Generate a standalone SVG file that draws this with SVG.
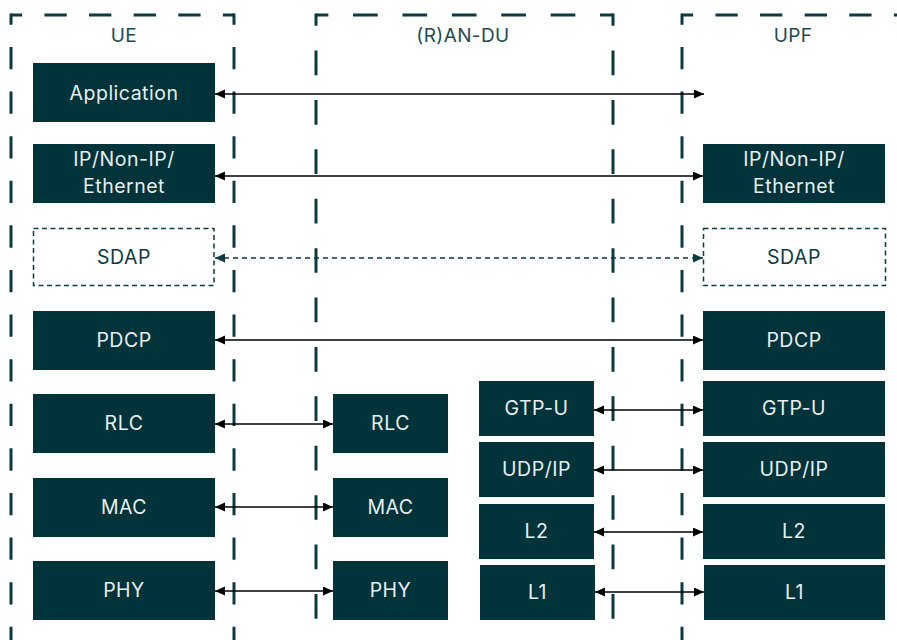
<svg xmlns="http://www.w3.org/2000/svg" width="897" height="640" viewBox="0 0 897 640">
<style>
.bg{fill:#ffffff}
.frame{fill:none;stroke:#0d3a40;stroke-width:3;stroke-linecap:butt}
.f44{stroke-dasharray:22.3 22.3;stroke-dashoffset:11.15}
.f49{stroke-dasharray:24.7 24.7;stroke-dashoffset:12.35}
.title{font-family:Inter,"Noto Sans",sans-serif;font-size:19px;letter-spacing:0.4px;fill:#1e4a50;text-anchor:middle}
.box{fill:#01333a}
.dbox{fill:#ffffff;stroke:#0d3a40;stroke-width:1.5;stroke-dasharray:5 3.5}
.lbl{font-family:Inter,"Noto Sans",sans-serif;font-size:19.5px;letter-spacing:0.5px;fill:#e8eff0;text-anchor:middle}
.dlbl{font-family:Inter,"Noto Sans",sans-serif;font-size:19.5px;letter-spacing:0.5px;fill:#0d3a40;text-anchor:middle}
.arr{stroke:#000;stroke-width:1.6;fill:none;marker-start:url(#ah);marker-end:url(#ah)}
.darr{stroke:#0d3a40;stroke-width:1.6;fill:none;stroke-dasharray:5 4;marker-start:url(#ahd);marker-end:url(#ahd)}
</style>
<defs>
<marker id="ah" markerUnits="userSpaceOnUse" markerWidth="10" markerHeight="10" refX="10" refY="4.5" orient="auto-start-reverse"><path d="M0,0 L10,4.5 L0,9 z" fill="#000"/></marker>
<marker id="ahd" markerUnits="userSpaceOnUse" markerWidth="10" markerHeight="10" refX="10" refY="4.5" orient="auto-start-reverse"><path d="M0,0 L10,4.5 L0,9 z" fill="#0d3a40"/></marker>
</defs>
<rect class="bg" x="0" y="0" width="897" height="640"/>

<g id="frame-ue">
<path class="frame f44" d="M11,15 H234"/>
<path class="frame f44" d="M11,13.5 V700"/>
<path class="frame f44" d="M234,13.5 V700"/>
<text class="title" x="124" y="42">UE</text>
</g>
<g id="frame-randu">
<path class="frame f49" d="M316,15 H613"/>
<path class="frame f49" d="M316,13.5 V700"/>
<path class="frame f49" d="M613,13.5 V700"/>
<text class="title" x="463" y="42">(R)AN-DU</text>
</g>
<g id="frame-upf">
<path class="frame f44" d="M682,15 H940"/>
<path class="frame f44" d="M682,13.5 V700"/>
<text class="title" x="793" y="42">UPF</text>
</g>

<g id="connectors">
<line class="arr" x1="215" y1="94" x2="704" y2="94"/>
<line class="arr" x1="215" y1="176" x2="703" y2="176"/>
<line class="darr" x1="215" y1="258" x2="703" y2="258"/>
<line class="arr" x1="215" y1="340" x2="703" y2="340"/>
<line class="arr" x1="215" y1="424" x2="333" y2="424"/>
<line class="arr" x1="215" y1="507" x2="333" y2="507"/>
<line class="arr" x1="215" y1="591" x2="333" y2="591"/>
<line class="arr" x1="594" y1="410" x2="703" y2="410"/>
<line class="arr" x1="594" y1="470" x2="703" y2="470"/>
<line class="arr" x1="594" y1="532" x2="703" y2="532"/>
<line class="arr" x1="595" y1="592" x2="704" y2="592"/>
</g>

<g id="ue-application"><rect class="box" x="33" y="63" width="182" height="59"/><text class="lbl" x="124" y="99.5">Application</text></g>
<g id="ue-ip"><rect class="box" x="33" y="144" width="182" height="59"/><text class="lbl" x="124" y="166">IP/Non-IP/</text><text class="lbl" x="124" y="193">Ethernet</text></g>
<g id="ue-sdap"><rect class="dbox" x="33.5" y="228.5" width="180.5" height="57"/><text class="dlbl" x="124" y="264">SDAP</text></g>
<g id="ue-pdcp"><rect class="box" x="33" y="311" width="182" height="59"/><text class="lbl" x="124" y="347">PDCP</text></g>
<g id="ue-rlc"><rect class="box" x="33" y="394" width="182" height="59"/><text class="lbl" x="124" y="430">RLC</text></g>
<g id="ue-mac"><rect class="box" x="33" y="478" width="182" height="59"/><text class="lbl" x="124" y="514">MAC</text></g>
<g id="ue-phy"><rect class="box" x="33" y="561" width="182" height="59"/><text class="lbl" x="124" y="597">PHY</text></g>

<g id="du-rlc"><rect class="box" x="333" y="394" width="115" height="59"/><text class="lbl" x="390.5" y="430">RLC</text></g>
<g id="du-mac"><rect class="box" x="333" y="478" width="115" height="59"/><text class="lbl" x="390.5" y="514">MAC</text></g>
<g id="du-phy"><rect class="box" x="333" y="561" width="115" height="59"/><text class="lbl" x="390.5" y="597">PHY</text></g>

<g id="du-gtpu"><rect class="box" x="479" y="381" width="115" height="55"/><text class="lbl" x="536.5" y="415">GTP-U</text></g>
<g id="du-udpip"><rect class="box" x="479" y="442" width="115" height="55"/><text class="lbl" x="536.5" y="476">UDP/IP</text></g>
<g id="du-l2"><rect class="box" x="479" y="504" width="115" height="55"/><text class="lbl" x="536.5" y="538">L2</text></g>
<g id="du-l1"><rect class="box" x="480" y="565" width="115" height="55"/><text class="lbl" x="537.5" y="599">L1</text></g>

<g id="upf-ip"><rect class="box" x="703" y="144" width="182" height="59"/><text class="lbl" x="794" y="166">IP/Non-IP/</text><text class="lbl" x="794" y="193">Ethernet</text></g>
<g id="upf-sdap"><rect class="dbox" x="703.5" y="228.5" width="182" height="57"/><text class="dlbl" x="794" y="264">SDAP</text></g>
<g id="upf-pdcp"><rect class="box" x="703" y="311" width="182" height="59"/><text class="lbl" x="794" y="347">PDCP</text></g>
<g id="upf-gtpu"><rect class="box" x="703" y="381" width="182" height="55"/><text class="lbl" x="794" y="415">GTP-U</text></g>
<g id="upf-udpip"><rect class="box" x="703" y="442" width="182" height="55"/><text class="lbl" x="794" y="476">UDP/IP</text></g>
<g id="upf-l2"><rect class="box" x="703" y="504" width="182" height="55"/><text class="lbl" x="794" y="538">L2</text></g>
<g id="upf-l1"><rect class="box" x="704" y="565" width="181" height="55"/><text class="lbl" x="794.5" y="599">L1</text></g>
</svg>
